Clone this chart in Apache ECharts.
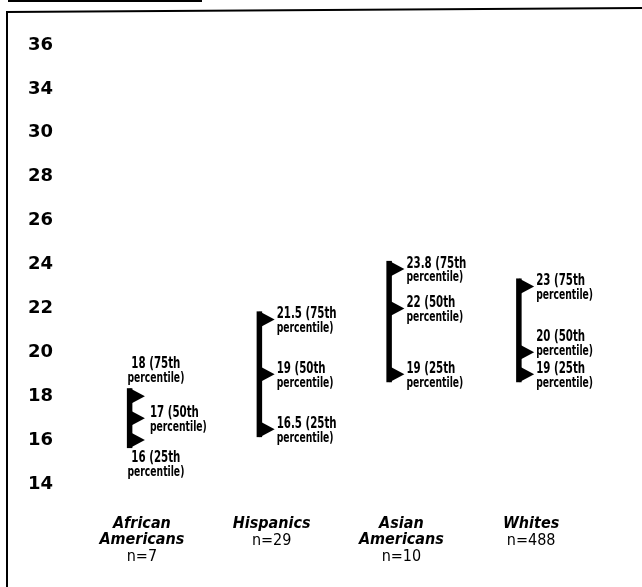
<!DOCTYPE html>
<html>
<head>
<meta charset="utf-8">
<script src="https://cdn.jsdelivr.net/npm/echarts@6/dist/echarts.min.js"></script>
<style>
html,body{margin:0;padding:0;background:#fff;}
#chart{width:642px;height:587px;}
</style>
</head>
<body>
<div id="chart"></div>
<script>
// ---- data ----
const categories = ['African\nAmericans', 'Hispanics', 'Asian\nAmericans', 'Whites'];
const sampleSizes = ['n=7', 'n=29', 'n=10', 'n=488'];
const p25 = [16, 16.5, 19, 19];
const p50 = [17, 19, 22, 20];
const p75 = [18, 21.5, 23.8, 23];
const percentileNames = ['25th', '50th', '75th'];
// tick labels as printed on the original (note: "32" is absent)
const tickLabels = ['14', '16', '18', '20', '22', '24', '26', '28', '30', '34', '36'];
const axisMin = 14, axisMax = 34, axisStep = 2;

const seriesData = categories.map((c, i) => [i, p25[i], p50[i], p75[i]]);

const FONT_COND = "'DejaVu Sans Condensed', 'DejaVu Sans', sans-serif";

function labelText(v, pct) {
  return '{a|' + v + ' (' + pct + '}\n{b|percentile)}';
}
const labelRich = {
  a: { fontFamily: FONT_COND, fontWeight: 'bold', fontSize: 15, lineHeight: 14, fill: '#000', color: '#000' },
  b: { fontFamily: FONT_COND, fontWeight: 'bold', fontSize: 13.5, lineHeight: 14, fill: '#000', color: '#000' }
};
const LABEL_SCALE = 0.76;

function label(v, pct, x, y, align, vAlign) {
  return {
    type: 'text',
    x: x, y: y,
    scaleX: LABEL_SCALE, scaleY: 1,
    style: { text: labelText(v, pct), rich: labelRich, x: 0, y: 0, align: align, verticalAlign: vAlign }
  };
}

function renderItem(params, api) {
  const ci = api.value(0);
  const vals = [api.value(1), api.value(2), api.value(3)];
  const cx = api.coord([ci, vals[0]])[0];
  const ys = vals.map(v => api.coord([ci, v])[1]);
  const barX = cx - 12;
  const children = [];
  // vertical bar
  children.push({
    type: 'rect',
    shape: { x: barX - 3, y: ys[2] - 8, width: 5.5, height: (ys[0] - ys[2]) + 16 },
    style: { fill: '#000' }
  });
  // triangles
  ys.forEach(y => {
    children.push({
      type: 'polygon',
      shape: { points: [[barX, y - 8], [barX + 15, y], [barX, y + 8]] },
      style: { fill: '#000' }
    });
  });
  // labels
  const tight = (ys[0] - ys[1] < 30) && (ys[1] - ys[2] < 30);
  if (tight) {
    // top label above the bar, middle to the right, bottom below
    children.push(label(vals[2], percentileNames[2], barX + 26, ys[2] - 11, 'center', 'bottom'));
    children.push(label(vals[1], percentileNames[1], barX + 20, ys[1] + 2, 'left', 'middle'));
    children.push(label(vals[0], percentileNames[0], barX + 26, ys[0] + 11, 'center', 'top'));
  } else {
    // right-side labels, pushed up when they would collide
    const ly = ys.map(y => y + 2);
    for (let k = 1; k < 3; k++) {
      if (ly[k] > ly[k - 1] - 32) ly[k] = ly[k - 1] - 32;
    }
    for (let k = 0; k < 3; k++) {
      children.push(label(vals[k], percentileNames[k], barX + 17, ly[k], 'left', 'middle'));
    }
  }
  return { type: 'group', children: children };
}

const chart = echarts.init(document.getElementById('chart'), null, { renderer: 'canvas' });
chart.setOption({
  backgroundColor: '#fff',
  animation: false,
  grid: { left: 77, right: 46, top: 45, bottom: 103, containLabel: false },
  xAxis: {
    type: 'category',
    data: categories,
    axisLine: { show: false },
    axisTick: { show: false },
    splitLine: { show: false },
    axisLabel: {
      interval: 0,
      margin: 32,
      verticalAlign: 'top',
      formatter: function (value, idx) {
        const lines = value.split('\n').map(l => '{h|' + l + '}');
        return lines.join('\n') + '\n{n|' + sampleSizes[idx] + '}';
      },
      rich: {
        h: { fontFamily: FONT_COND, fontWeight: 'bold', fontStyle: 'italic', fontSize: 16, lineHeight: 16, color: '#000' },
        n: { fontFamily: FONT_COND, fontWeight: 'normal', fontSize: 16, lineHeight: 18, color: '#000' }
      }
    }
  },
  yAxis: {
    type: 'value',
    min: axisMin,
    max: axisMax,
    interval: axisStep,
    axisLine: { show: false },
    axisTick: { show: false },
    splitLine: { show: false },
    axisLabel: {
      margin: 49,
      align: 'left',
      fontFamily: "'DejaVu Sans', sans-serif",
      fontWeight: 'bold',
      fontSize: 18,
      color: '#000',
      formatter: function (v) {
        const idx = Math.round((v - axisMin) / axisStep);
        return tickLabels[idx] !== undefined ? tickLabels[idx] : '';
      }
    }
  },
  series: [{
    type: 'custom',
    renderItem: renderItem,
    encode: { x: 0, y: [1, 2, 3] },
    data: seriesData,
    clip: false
  }],
  graphic: [
    { type: 'line', shape: { x1: 8, y1: 1, x2: 202, y2: 1 }, style: { stroke: '#000', lineWidth: 2 } },
    { type: 'line', shape: { x1: 6, y1: 12, x2: 642, y2: 8 }, style: { stroke: '#000', lineWidth: 2 } },
    { type: 'line', shape: { x1: 7, y1: 11, x2: 7, y2: 587 }, style: { stroke: '#000', lineWidth: 2 } }
  ]
});
</script>
</body>
</html>
